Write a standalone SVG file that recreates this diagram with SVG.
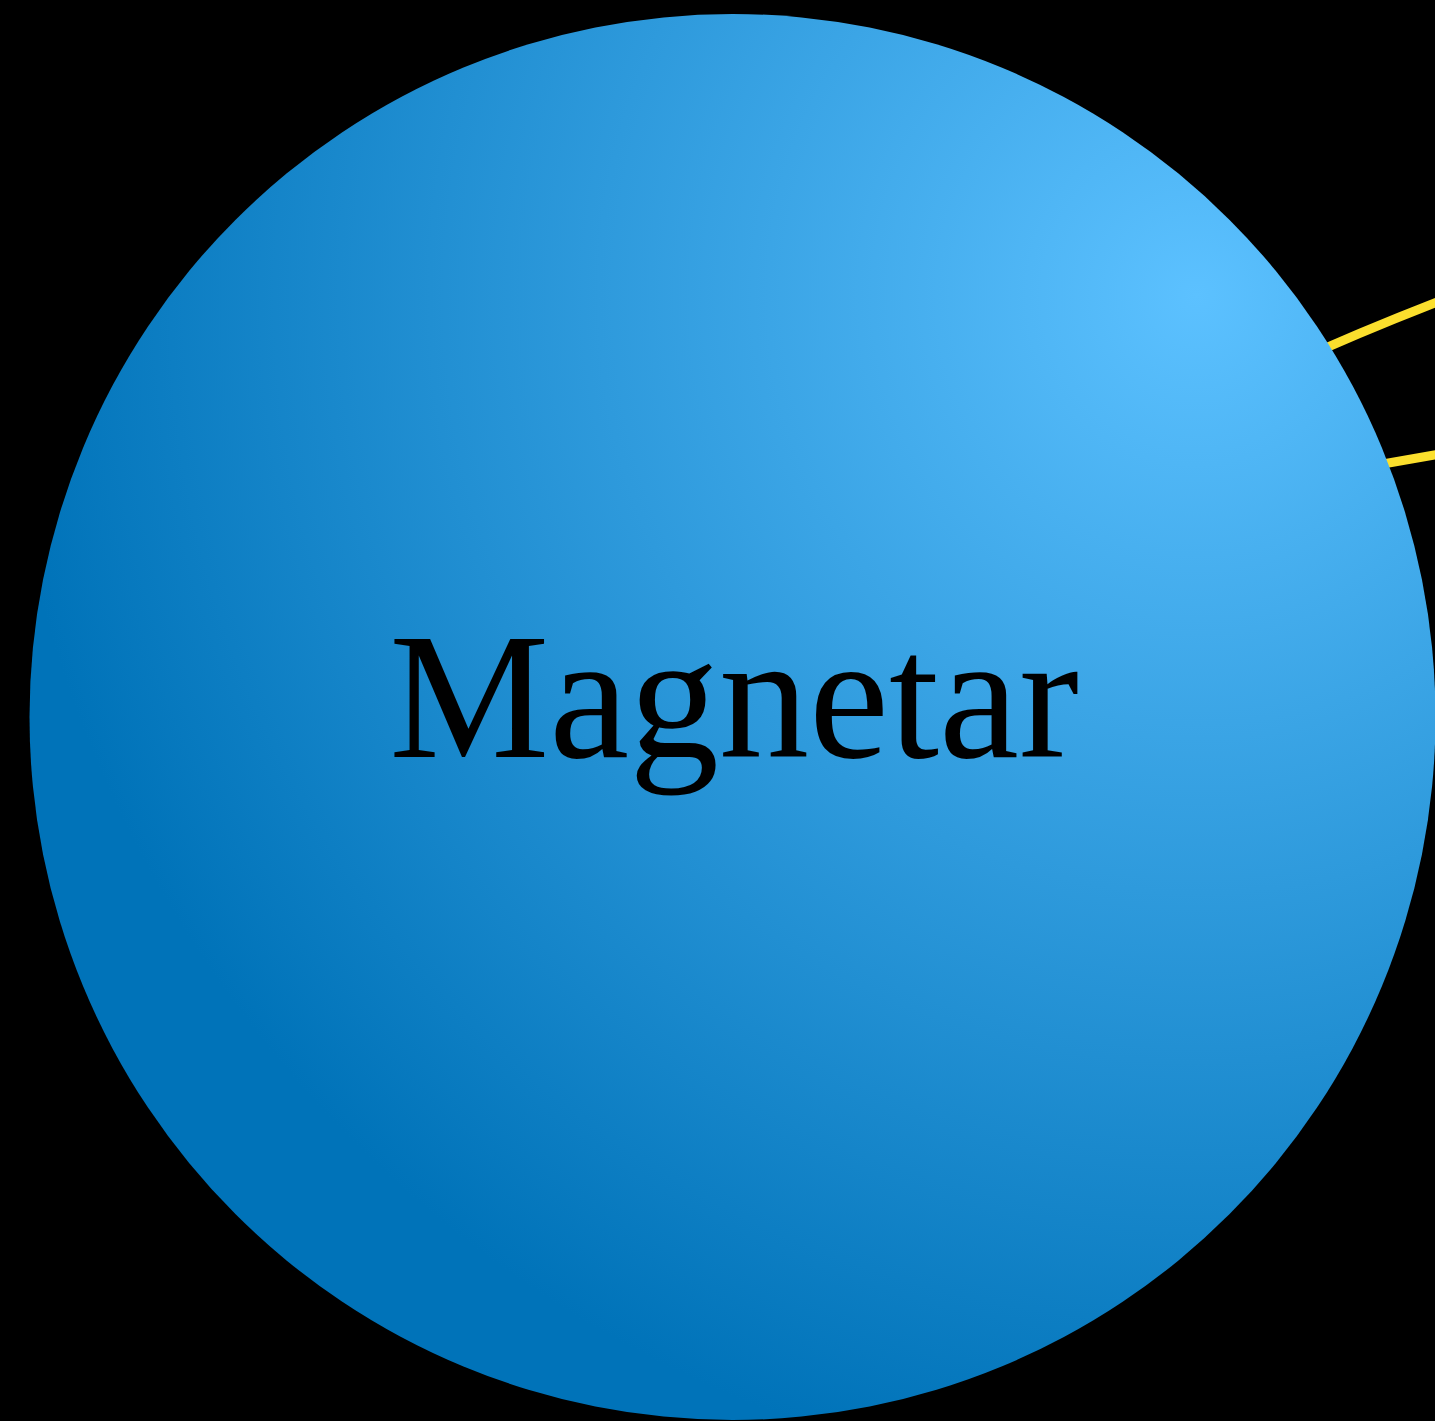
<svg xmlns="http://www.w3.org/2000/svg" width="1435" height="1421" viewBox="0 0 1435 1421">
<defs>
<radialGradient id="g" cx="0.83" cy="0.2" fx="0.83" fy="0.2" r="0.85">
<stop offset="0" stop-color="#5CC1FF"/>
<stop offset="1" stop-color="#0073B9"/>
</radialGradient>
<style>
.edge{fill:none;stroke:#FBDF2D;stroke-width:9}
.lbl{font-family:"Liberation Serif","Times New Roman",serif;font-size:180px;fill:#000}
</style>
</defs>
<rect width="1435" height="1421" fill="#000"/>
<g id="connectors">
<path class="edge" d="M1290,364 Q1360,332 1440,301"/>
<path class="edge" d="M1360,468 L1440,454"/>
</g>
<g id="magnetar">
<circle cx="732.5" cy="717" r="703" fill="url(#g)"/>
<text class="lbl" x="734" y="757" text-anchor="middle">Magnetar</text>
</g>
</svg>
